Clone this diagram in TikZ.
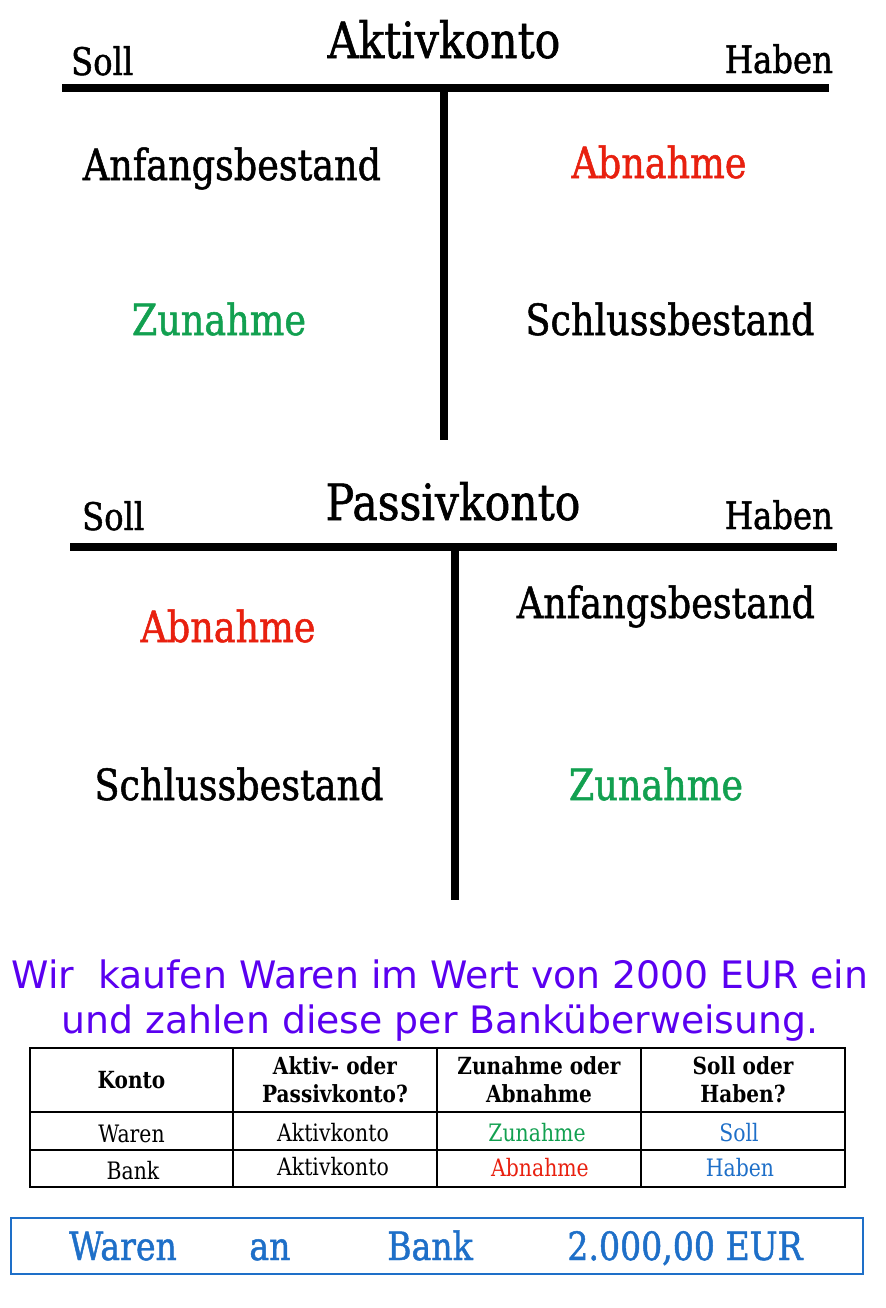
\documentclass[tikz,border=0pt]{standalone}
\usepackage{fontspec}
\setmainfont{DejaVu Serif}[FakeStretch=0.85]
\newfontfamily\kontofont{DejaVu Serif}[FakeStretch=0.85,FakeBold=1.2]
\setsansfont{DejaVu Sans}
\usetikzlibrary{positioning}

\definecolor{abred}{HTML}{E8200F}
\definecolor{zugreen}{HTML}{12A050}
\definecolor{shblue}{HTML}{1E6FC8}
\definecolor{satzlila}{HTML}{5A00F0}

\begin{document}
\begin{tikzpicture}[x=0.5pt,y=-0.5pt,
    titel/.style={anchor=base, font=\kontofont\fontsize{25}{30}\selectfont},
    seite/.style={font=\kontofont\fontsize{19}{22}\selectfont},
    eintrag/.style={anchor=base, font=\kontofont\fontsize{21.5}{25}\selectfont},
    balken/.style={line width=4pt},
    zelle/.style={font=\fontsize{12}{14}\selectfont, align=center},
    kopf/.style={zelle, font=\fontsize{11.8}{14}\selectfont\bfseries},
    buchung/.style={anchor=base, text=shblue, font=\kontofont\fontsize{19.5}{23}\selectfont}
]
\useasboundingbox (0,0) rectangle (885,1308);

% Aktivkonto
\node[titel] (akt) at (444,58) {Aktivkonto};
\node[seite, anchor=base west] (aSoll) at (64,75) {Soll};
\node[seite, anchor=base east] (aHaben) at (840,73) {Haben};
\coordinate (aL) at (62,88);
\coordinate (aR) at (829,88);
\coordinate (aTop) at (444,88);
\coordinate (aBot) at (444,440);
\draw[balken] (aL) -- (aR);
\draw[balken] (aTop) -- (aBot);
\node[eintrag] (aAB) at (232,180) {Anfangsbestand};
\node[eintrag, text=abred] (aAbn) at (659,178) {Abnahme};
\node[eintrag, text=zugreen] (aZun) at (219,335) {Zunahme};
\node[eintrag] (aSB) at (670,335) {Schlussbestand};

% Passivkonto
\node[titel] (pas) at (453,520) {Passivkonto};
\node[seite, anchor=base west] (pSoll) at (75,530) {Soll};
\node[seite, anchor=base east] (pHaben) at (840,529) {Haben};
\coordinate (pL) at (70,547);
\coordinate (pR) at (837,547);
\coordinate (pTop) at (455,547);
\coordinate (pBot) at (455,900);
\draw[balken] (pL) -- (pR);
\draw[balken] (pTop) -- (pBot);
\node[eintrag, text=abred] (pAbn) at (228,642) {Abnahme};
\node[eintrag] (pAB) at (666,618) {Anfangsbestand};
\node[eintrag] (pSB) at (239,800) {Schlussbestand};
\node[eintrag, text=zugreen] (pZun) at (656,800) {Zunahme};

% Geschaeftsfall
\node[anchor=base, text=satzlila, font=\sffamily\fontsize{18.9}{22}\selectfont] (satz1) at (440,988) {Wir\ \ kaufen Waren im Wert von 2000 EUR ein};
\node[anchor=base, text=satzlila, font=\sffamily\fontsize{18.9}{22}\selectfont] (satz2) at (440,1033) {und zahlen diese per Banküberweisung.};

% Tabelle
\draw[line width=0.6pt] (30,1048) rectangle (845,1187);
\foreach \x in {233,437,641} \draw[line width=0.6pt] (\x,1048) -- (\x,1187);
\foreach \y in {1112,1150} \draw[line width=0.6pt] (30,\y) -- (845,\y);
\node[kopf] (hKonto) at (131.5,1080) {Konto};
\node[kopf] (hArt) at (335,1080) {Aktiv- oder\\Passivkonto?};
\node[kopf] (hZuAb) at (539,1080) {Zunahme oder\\Abnahme};
\node[kopf] (hSH) at (743,1080) {Soll oder\\Haben?};
\node[zelle] (wKonto) at (131.5,1134) {Waren};
\node[zelle] (wArt) at (333,1133) {Aktivkonto};
\node[zelle, text=zugreen] (wZuAb) at (537,1133) {Zunahme};
\node[zelle, text=shblue] (wSH) at (739,1133) {Soll};
\node[zelle] (bKonto) at (133,1171) {Bank};
\node[zelle] (bArt) at (333,1167) {Aktivkonto};
\node[zelle, text=abred] (bZuAb) at (540,1168) {Abnahme};
\node[zelle, text=shblue] (bSH) at (740,1168) {Haben};

% Buchungssatz
\draw[shblue, line width=0.8pt] (11,1218) rectangle (863,1274);
\node[buchung] (bsSoll) at (123,1260) {Waren};
\node[buchung] (bsAn) at (270,1260) {an};
\node[buchung] (bsHaben) at (430,1260) {Bank};
\node[buchung] (bsBetrag) at (685,1260) {2.000,00 EUR};
\end{tikzpicture}
\end{document}
